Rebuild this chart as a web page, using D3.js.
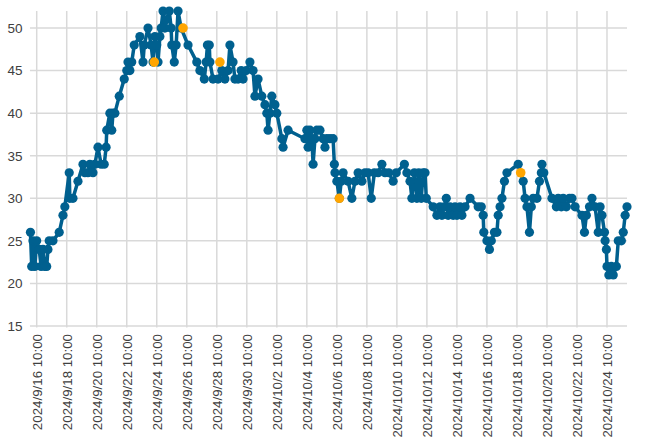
<!DOCTYPE html>
<html><head><meta charset="utf-8">
<script src="https://cdn.jsdelivr.net/npm/d3@7"></script>
<style>html,body{margin:0;padding:0;background:#fff;}svg{display:block;}</style>
</head><body>
<svg id="chart" width="670" height="439"></svg>
<script>
// ---- data ----
const times = [
"2024-09-16 00:00","2024-09-16 02:00","2024-09-16 04:00","2024-09-16 07:00","2024-09-16 10:00","2024-09-16 14:00","2024-09-16 17:00","2024-09-16 20:00","2024-09-16 23:00","2024-09-17 02:00",
"2024-09-17 04:00","2024-09-17 06:00","2024-09-17 12:00","2024-09-17 22:00","2024-09-18 04:00","2024-09-18 07:00","2024-09-18 14:00","2024-09-18 15:00","2024-09-18 20:00","2024-09-19 04:00",
"2024-09-19 12:00","2024-09-19 15:00","2024-09-19 20:00","2024-09-19 23:00","2024-09-20 04:00","2024-09-20 07:00","2024-09-20 12:00","2024-09-20 17:00","2024-09-20 22:00","2024-09-21 01:00",
"2024-09-21 02:00","2024-09-21 07:00","2024-09-21 10:00","2024-09-21 12:00","2024-09-21 15:00","2024-09-21 22:00","2024-09-22 06:00","2024-09-22 10:00","2024-09-22 12:00","2024-09-22 15:00",
"2024-09-22 18:00","2024-09-22 22:00","2024-09-23 07:00","2024-09-23 12:00","2024-09-23 14:00","2024-09-23 20:00","2024-09-24 01:00","2024-09-24 04:00","2024-09-24 07:00","2024-09-24 10:00",
"2024-09-24 12:00","2024-09-24 15:00","2024-09-24 17:00","2024-09-24 20:00","2024-09-24 23:00","2024-09-25 02:00","2024-09-25 06:00","2024-09-25 09:00","2024-09-25 10:00","2024-09-25 14:00",
"2024-09-25 17:00","2024-09-25 20:00","2024-09-26 01:00","2024-09-26 12:00","2024-09-27 02:00","2024-09-27 07:00","2024-09-27 14:00","2024-09-27 17:00","2024-09-27 19:00","2024-09-27 22:00",
"2024-09-27 23:00","2024-09-28 04:00","2024-09-28 12:00","2024-09-28 18:00","2024-09-28 23:00","2024-09-29 04:00","2024-09-29 07:00","2024-09-29 12:00","2024-09-29 15:00","2024-09-29 20:00",
"2024-09-30 01:00","2024-09-30 04:00","2024-09-30 09:00","2024-09-30 15:00","2024-09-30 20:00","2024-09-30 23:00","2024-10-01 04:00","2024-10-01 10:00","2024-10-01 15:00","2024-10-01 18:00",
"2024-10-01 20:00","2024-10-01 23:00","2024-10-02 02:00","2024-10-02 07:00","2024-10-02 10:00","2024-10-02 18:00","2024-10-02 20:00","2024-10-03 04:00","2024-10-04 07:00","2024-10-04 10:00",
"2024-10-04 12:00","2024-10-04 15:00","2024-10-04 18:00","2024-10-04 20:00","2024-10-04 23:00","2024-10-05 02:00","2024-10-05 07:00","2024-10-05 12:00","2024-10-05 15:00","2024-10-05 18:00",
"2024-10-05 23:00","2024-10-06 04:00","2024-10-06 06:00","2024-10-06 07:00","2024-10-06 10:00","2024-10-06 14:00","2024-10-06 17:00","2024-10-06 20:00","2024-10-07 04:00","2024-10-07 10:00",
"2024-10-07 15:00","2024-10-07 20:00","2024-10-08 02:00","2024-10-08 07:00","2024-10-08 12:00","2024-10-08 17:00","2024-10-08 22:00","2024-10-09 04:00","2024-10-09 10:00","2024-10-09 15:00",
"2024-10-09 21:00","2024-10-10 04:00","2024-10-10 09:00","2024-10-10 22:00","2024-10-11 02:00","2024-10-11 07:00","2024-10-11 10:00","2024-10-11 14:00","2024-10-11 18:00","2024-10-11 21:00",
"2024-10-12 01:00","2024-10-12 04:00","2024-10-12 07:00","2024-10-12 09:00","2024-10-12 20:00","2024-10-13 02:00","2024-10-13 07:00","2024-10-13 10:00","2024-10-13 14:00","2024-10-13 17:00",
"2024-10-13 20:00","2024-10-13 23:00","2024-10-14 04:00","2024-10-14 07:00","2024-10-14 10:00","2024-10-14 15:00","2024-10-14 18:00","2024-10-14 23:00","2024-10-15 07:00","2024-10-15 20:00",
"2024-10-16 01:00","2024-10-16 04:00","2024-10-16 05:00","2024-10-16 10:00","2024-10-16 14:00","2024-10-16 17:00","2024-10-16 22:00","2024-10-17 02:00","2024-10-17 04:00","2024-10-17 07:00",
"2024-10-17 10:00","2024-10-17 14:00","2024-10-17 18:00","2024-10-18 12:00","2024-10-18 20:00","2024-10-18 23:00","2024-10-19 02:00","2024-10-19 06:00","2024-10-19 09:00","2024-10-19 12:00",
"2024-10-19 18:00","2024-10-19 22:00","2024-10-20 01:00","2024-10-20 02:00","2024-10-20 05:00","2024-10-20 18:00","2024-10-21 01:00","2024-10-21 04:00","2024-10-21 09:00","2024-10-21 12:00",
"2024-10-21 17:00","2024-10-21 22:00","2024-10-22 02:00","2024-10-22 07:00","2024-10-22 18:00","2024-10-22 22:00","2024-10-23 01:00","2024-10-23 06:00","2024-10-23 10:00","2024-10-23 15:00",
"2024-10-23 20:00","2024-10-23 23:00","2024-10-24 02:00","2024-10-24 06:00","2024-10-24 07:00","2024-10-24 09:00","2024-10-24 10:00","2024-10-24 13:00","2024-10-24 17:00","2024-10-24 20:00",
"2024-10-25 01:00","2024-10-25 04:00","2024-10-25 09:00","2024-10-25 12:00","2024-10-25 15:00","2024-10-25 18:00"
];
const values = [
26,22,25,22,25,24,22,24,22,22,
24,25,25,26,28,29,33,30,30,32,
34,33,33,34,33,34,36,34,34,36,
38,40,38,40,40,42,44,45,46,45,
46,48,49,46,48,50,48,46,49,48,
46,49,50,52,50,51,52,50,48,46,
48,52,50,48,46,45,44,46,48,48,
46,44,44,45,44,45,48,46,44,44,
45,44,45,46,45,42,44,42,41,40,
38,40,42,41,40,37,36,38,37,38,
36,38,37,34,37,38,38,37,36,37,
37,37,34,33,32,30,32,33,32,30,
32,33,32,33,33,30,33,33,34,33,
33,32,33,34,33,32,30,33,30,33,
30,33,33,30,29,28,29,28,29,30,
28,29,28,29,28,29,28,29,30,29,
29,28,26,25,24,25,26,26,28,29,
30,32,33,34,32,30,29,26,29,30,
30,32,33,34,33,30,29,30,29,30,
29,30,30,29,28,26,28,29,30,29,
26,29,28,26,25,24,22,21,22,21,
22,25,25,26,28,29
];
// highlighted (orange) points
const highlightTimes = ["2024-09-24 06:00","2024-09-26 04:00","2024-09-28 15:00","2024-10-06 14:00","2024-10-18 16:00"];
const highlightValues = [46,50,46,30,33];
// axis
const xTickLabels = ["2024/9/16 10:00","2024/9/18 10:00","2024/9/20 10:00","2024/9/22 10:00","2024/9/24 10:00","2024/9/26 10:00","2024/9/28 10:00","2024/9/30 10:00","2024/10/2 10:00","2024/10/4 10:00","2024/10/6 10:00","2024/10/8 10:00","2024/10/10 10:00","2024/10/12 10:00","2024/10/14 10:00","2024/10/16 10:00","2024/10/18 10:00","2024/10/20 10:00","2024/10/22 10:00","2024/10/24 10:00"];
const yTicks = [15,20,25,30,35,40,45,50];
const xDomain = ["2024-09-16 00:00","2024-10-25 18:00"];
const yDomain = [15,52];

// ---- drawing ----
(function(){
const parse = d3.timeParse("%Y-%m-%d %H:%M");
const parseLabel = d3.timeParse("%Y/%m/%d %H:%M");
const svg = d3.select("#chart");
const mL = 30.45, mR = 627, mT = 11, mB = 326;

const x = d3.scaleTime().domain(xDomain.map(parse)).range([mL, mR]);
const y = d3.scaleLinear().domain(yDomain).range([mB, mT]);

const data = times.map((t,i)=>({t:parse(t), v:values[i]}));
const hi = highlightTimes.map((t,i)=>({t:parse(t), v:highlightValues[i]}));
const tickDates = xTickLabels.map(s=>parseLabel(s));

const font = "'Liberation Sans', Arial, sans-serif";
const txt = "#404040";

// gridlines
const grid = svg.append("g");
grid.selectAll("line.h").data(yTicks).enter().append("line")
  .attr("x1", mL-0.5).attr("x2", mR).attr("y1", d=>y(d)).attr("y2", d=>y(d))
  .attr("stroke","#d9d9d9").attr("stroke-width",1.5);
grid.selectAll("line.v").data(tickDates).enter().append("line")
  .attr("x1", d=>x(d)).attr("x2", d=>x(d)).attr("y1", mT).attr("y2", mB+1.5)
  .attr("stroke","#d9d9d9").attr("stroke-width",1.5);

// y axis labels
const yAxis = d3.axisLeft(y).tickValues(yTicks).tickSize(0).tickPadding(8);
const gy = svg.append("g").attr("transform",`translate(${mL},0)`).call(yAxis);
gy.select(".domain").remove();
gy.selectAll("text").attr("font-family",font).attr("font-size","13.5px").attr("fill",txt);

// x axis labels
const xAxis = d3.axisBottom(x).tickValues(tickDates).tickSize(0).tickFormat((d,i)=>xTickLabels[i]);
const gx = svg.append("g").attr("transform",`translate(0,${mB})`).call(xAxis);
gx.select(".domain").remove();
gx.selectAll("text")
  .attr("font-family",font).attr("font-size","13.3px").attr("fill",txt)
  .attr("transform","rotate(-90)").attr("text-anchor","end").attr("dy","0.36em").attr("dx","-8px").attr("y",0).attr("x",0);

// line + markers
const blue = "#00608f";
const line = d3.line().x(d=>x(d.t)).y(d=>y(d.v));
svg.append("path").datum(data).attr("d",line).attr("fill","none").attr("stroke",blue).attr("stroke-width",3.5).attr("stroke-linejoin","round");
svg.append("g").selectAll("circle").data(data).enter().append("circle")
  .attr("cx",d=>x(d.t)).attr("cy",d=>y(d.v)).attr("r",4.6).attr("fill",blue);
svg.append("g").selectAll("circle").data(hi).enter().append("circle")
  .attr("cx",d=>x(d.t)).attr("cy",d=>y(d.v)).attr("r",4.8).attr("fill","#ffa500");
})();
</script>
</body></html>
